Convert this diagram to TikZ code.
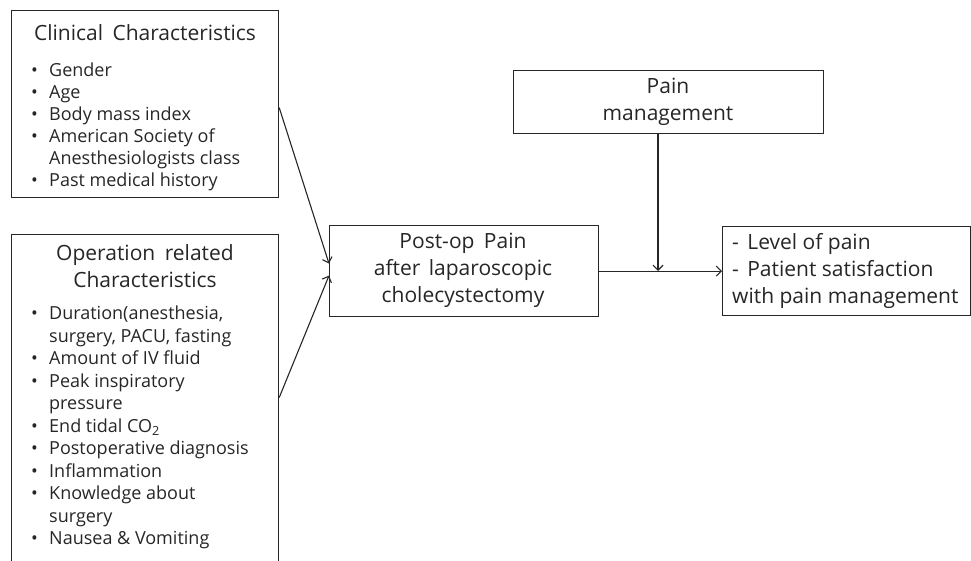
\documentclass[tikz,border=0pt]{standalone}
\usepackage{fontspec}
\setmainfont{Open Sans}
\usetikzlibrary{arrows.meta}
\newcommand\bl{\makebox[18pt][l]{•}}
\newcommand\ind{\hspace*{18pt}}
\begin{document}
\begin{tikzpicture}[x=1pt,y=-1pt,
  box/.style={draw=black!85,line width=1.2pt,inner sep=0pt,anchor=north west},
  big/.style={font={\fontsize{21}{27}\selectfont},text=black!85,inner sep=0pt,align=center},
  small/.style={font=\fontsize{18}{22}\selectfont,text=black!85,inner sep=0pt,align=left,anchor=north west},
  small2/.style={small,font=\fontsize{18}{22.5}\selectfont},
  arr/.style={draw=black!85,line width=1.1pt,-{Straight Barb[length=5pt,width=10pt]}}]
\useasboundingbox (0,0) rectangle (971,561);
\clip (0,0) rectangle (971,561);
% boxes
\node[box,minimum width=267pt,minimum height=187pt] (clin) at (11,10) {};
\node[box,minimum width=267pt,minimum height=345pt] (oper) at (11,234) {};
\node[box,minimum width=269pt,minimum height=91pt] (post) at (329,225) {};
\node[box,minimum width=310pt,minimum height=63pt] (pain) at (513,70) {};
\node[box,minimum width=248pt,minimum height=89pt] (res) at (722,226) {};
% texts
\node[big] (clintitle) at (145,33) {Clinical\hspace{0.45em}Characteristics};
\node[small] (clinlist) at (31,63) {\bl Gender\\\bl Age\\\bl Body mass index\\\bl American Society of\\\ind Anesthesiologists class\\\bl Past medical history};
\node[big] (opertitle) at (145,266.5) {Operation\hspace{0.45em}related\\Characteristics};
\node[small2] (operlist) at (31,306) {\bl Duration(anesthesia,\\\ind surgery, PACU, fasting\\\bl Amount of IV fluid\\\bl Peak inspiratory\\\ind pressure\\\bl End tidal CO\textsubscript{2}\\\bl Postoperative diagnosis\\\bl Inflammation\\\bl Knowledge about\\\ind surgery\\\bl Nausea \& Vomiting};
\node[big] (posttext) at (463,270) {Post-op\hspace{0.45em}Pain\\after\hspace{0.4em}laparoscopic\\cholecystectomy};
\node[big] (paintext) at (668,101.5) {Pain\\management};
\node[big,align=left,anchor=west] (restext) at (732,271) {-\hspace{0.4em}Level of pain\\-\hspace{0.4em}Patient satisfaction\\with pain management};
% connectors
\coordinate (join) at (658,271);
\draw[arr] ([yshift=-3.5pt]clin.east) -- ([yshift=7.5pt]post.west);
\draw[arr] ([yshift=9.5pt]oper.east) -- ([yshift=-4.5pt]post.west);
\draw[arr] (pain.south -| join) -- (join);
\draw[arr] (post.east) -- (res.west);
\end{tikzpicture}
\end{document}
